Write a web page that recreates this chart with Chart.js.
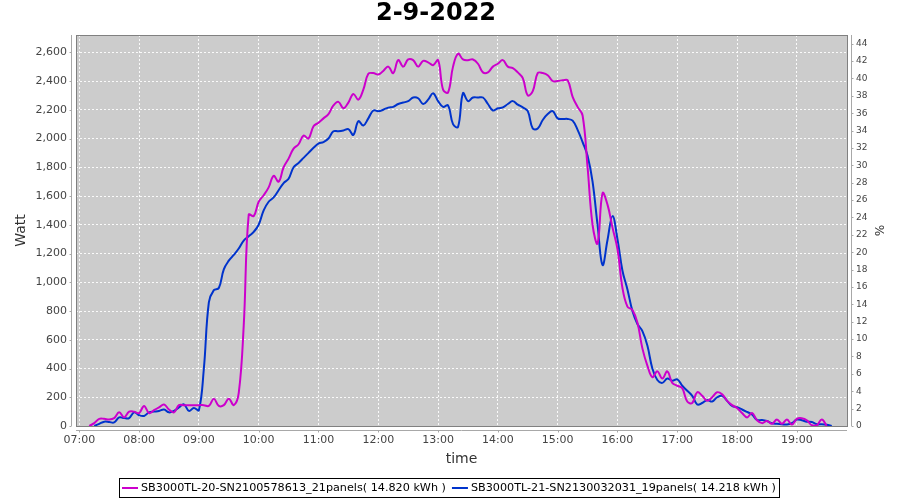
<!DOCTYPE html>
<html>
<head>
<meta charset="utf-8">
<script src="https://cdn.jsdelivr.net/npm/chart.js@4/dist/chart.umd.min.js"></script>
<style>
  html, body { margin: 0; padding: 0; background: #fff; }
  #wrap { width: 900px; height: 500px; }
</style>
</head>
<body>
<div id="wrap"><canvas id="chart" width="900" height="500"></canvas></div>
<script>
// 5 minute samples
const times = [
  '07:10','07:15','07:20','07:25','07:30','07:35','07:40','07:45','07:50','07:55',
  '08:00','08:05','08:10','08:15','08:20','08:25','08:30','08:35','08:40','08:45','08:50','08:55',
  '09:00','09:05','09:10','09:15','09:20','09:25','09:30','09:35','09:40','09:45','09:50','09:55',
  '10:00','10:05','10:10','10:15','10:20','10:25','10:30','10:35','10:40','10:45','10:50','10:55',
  '11:00','11:05','11:10','11:15','11:20','11:25','11:30','11:35','11:40','11:45','11:50','11:55',
  '12:00','12:05','12:10','12:15','12:20','12:25','12:30','12:35','12:40','12:45','12:50','12:55',
  '13:00','13:05','13:10','13:15','13:20','13:25','13:30','13:35','13:40','13:45','13:50','13:55',
  '14:00','14:05','14:10','14:15','14:20','14:25','14:30','14:35','14:40','14:45','14:50','14:55',
  '15:00','15:05','15:10','15:15','15:20','15:25','15:30','15:35','15:40','15:45','15:50','15:55',
  '16:00','16:05','16:10','16:15','16:20','16:25','16:30','16:35','16:40','16:45','16:50','16:55',
  '17:00','17:05','17:10','17:15','17:20','17:25','17:30','17:35','17:40','17:45','17:50','17:55',
  '18:00','18:05','18:10','18:15','18:20','18:25','18:30','18:35','18:40','18:45','18:50','18:55',
  '19:00','19:05','19:10','19:15','19:20','19:25','19:30','19:35'
];

// SB3000TL-20 (21 panels), Watt
const sb20 = [
  0, 20, 50, 50, 45, 55, 95, 60, 100, 100,
  90, 140, 90, 110, 130, 150, 115, 95, 145, 145, 145, 145,
  145, 145, 140, 190, 140, 145, 190, 145, 230, 700, 1470, 1460,
  1560, 1605, 1660, 1740, 1700, 1800, 1860, 1930, 1960, 2020, 2000, 2085,
  2110, 2140, 2170, 2230, 2255, 2210, 2250, 2310, 2270, 2340, 2450, 2455,
  2445, 2470, 2500, 2455, 2545, 2500, 2550, 2545, 2500, 2540, 2530, 2510,
  2545, 2340, 2320, 2500, 2590, 2550, 2545, 2550, 2520, 2460, 2460, 2500,
  2520, 2545, 2500, 2490, 2460, 2420, 2300, 2330, 2455, 2455, 2440, 2400,
  2400, 2405, 2405, 2290, 2220, 2160, 1800, 1400, 1270, 1620, 1540, 1380,
  1230, 960, 830, 807, 720, 540, 420, 340, 380, 330, 380, 300,
  280, 262, 170, 160, 235, 210, 175, 200, 235, 220, 175, 145,
  125, 90, 60, 90, 40, 20, 35, 15, 45, 15, 45, 10,
  50, 54, 40, 5, 5, 45, 0, null
];

// SB3000TL-21 (19 panels), Watt
const sb21 = [
  null, 0, 15, 30, 28, 25, 60, 55, 55, 95,
  75, 70, 95, 100, 105, 115, 95, 105, 130, 150, 105, 125,
  110, 400, 860, 945, 960, 1090, 1150, 1190, 1235, 1290, 1320, 1350,
  1400, 1500, 1560, 1590, 1640, 1690, 1720, 1800, 1830, 1865, 1900, 1935,
  1965, 1975, 2000, 2050, 2050, 2055, 2065, 2025, 2120, 2090, 2140, 2195,
  2190, 2200, 2215, 2220, 2240, 2250, 2260, 2285, 2280, 2240, 2270, 2315,
  2260, 2220, 2230, 2100, 2080, 2315, 2260, 2285, 2285, 2285, 2240, 2195,
  2210, 2217, 2240, 2260, 2235, 2217, 2190, 2070, 2070, 2129, 2170, 2190,
  2140, 2136, 2136, 2124, 2060, 1975, 1880, 1700, 1400, 1120, 1294, 1460,
  1300, 1080, 950, 800, 710, 660, 560, 400, 320, 300, 330, 315,
  325, 280, 245, 210, 150, 160, 180, 170, 200, 210, 175, 140,
  130, 115, 98, 80, 42, 42, 35, 19, 15, 12, 10, 20,
  45, 40, 30, 28, 12, 12, 8, 0
];

const hourTicks = ['07:00','08:00','09:00','10:00','11:00','12:00','13:00','14:00','15:00','16:00','17:00','18:00','19:00'];
const wattTicks = [0, 200, 400, 600, 800, 1000, 1200, 1400, 1600, 1800, 2000, 2200, 2400, 2600];
const pctTicks = [0, 2, 4, 6, 8, 10, 12, 14, 16, 18, 20, 22, 24, 26, 28, 30, 32, 34, 36, 38, 40, 42, 44];
const chartTitle = '2-9-2022';

function toMin(s) { const p = s.split(':'); return +p[0] * 60 + +p[1]; }
function fmt(m) { const h = Math.floor(m / 60), mm = Math.round(m % 60); return String(h).padStart(2, '0') + ':' + String(mm).padStart(2, '0'); }
function pts(arr) { return times.map((t, i) => ({ x: toMin(t), y: arr[i] })); }

const FONT = 'DejaVu Sans';

const plotFrame = {
  id: 'plotFrame',
  beforeDraw(chart) {
    const a = chart.chartArea, c = chart.ctx;
    c.save();
    c.fillStyle = '#cccccc';
    c.fillRect(a.left, a.top, a.right - a.left, a.bottom - a.top);
    // title
    c.fillStyle = '#000';
    c.font = 'bold 24px ' + FONT;
    c.textAlign = 'center';
    c.textBaseline = 'middle';
    c.fillText(chartTitle, 436, 14);
    c.restore();
  },
  afterDraw(chart) {
    const a = chart.chartArea, c = chart.ctx;
    c.save();
    c.strokeStyle = '#808080';
    c.lineWidth = 1;
    c.strokeRect(Math.round(a.left) + 0.5, Math.round(a.top) + 0.5, Math.round(a.right - a.left), Math.round(a.bottom - a.top));
    // offset axis lines
    c.strokeStyle = '#a8a8a8';
    c.beginPath();
    const lx = Math.round(a.left) - 4.5, rx = Math.round(a.right) + 4.5, by = Math.round(a.bottom) + 4.5;
    c.moveTo(lx, a.top); c.lineTo(lx, a.bottom);
    c.moveTo(rx, a.top); c.lineTo(rx, a.bottom);
    c.moveTo(a.left, by); c.lineTo(a.right, by);
    chart.scales.y.ticks.forEach(t => { const y = Math.round(chart.scales.y.getPixelForValue(t.value)) + 0.5; c.moveTo(lx, y); c.lineTo(lx - 2, y); });
    chart.scales.y1.ticks.forEach(t => { const y = Math.round(chart.scales.y1.getPixelForValue(t.value)) + 0.5; c.moveTo(rx, y); c.lineTo(rx + 2, y); });
    chart.scales.x.ticks.forEach(t => { const x = Math.round(chart.scales.x.getPixelForValue(t.value)) + 0.5; c.moveTo(x, by); c.lineTo(x, by + 2); });
    c.stroke();

    // legend with frame
    c.font = '11.2px ' + FONT;
    c.textBaseline = 'middle';
    c.textAlign = 'left';
    const items = chart.data.datasets.map(d => ({ label: d.label, color: d.borderColor, w: c.measureText(d.label).width }));
    const lineLen = 16, gap = 3, itemGap = 6, pad = 3;
    const total = items.reduce((s, it) => s + lineLen + gap + it.w, 0) + itemGap * (items.length - 1) + pad * 2;
    let x = Math.round(449 - total / 2);
    const top = 478, h = 19, cy = top + h / 2 + 0.5;
    c.strokeStyle = '#000';
    c.lineWidth = 1;
    c.strokeRect(x + 0.5, top + 0.5, Math.round(total), h);
    x += pad;
    items.forEach(it => {
      c.strokeStyle = it.color;
      c.lineWidth = 2;
      c.beginPath();
      c.moveTo(x, cy); c.lineTo(x + lineLen, cy);
      c.stroke();
      x += lineLen + gap;
      c.fillStyle = '#000';
      c.fillText(it.label, x, cy);
      x += it.w + itemGap;
    });
    c.restore();
  }
};

new Chart(document.getElementById('chart').getContext('2d'), {
  type: 'line',
  data: {
    datasets: [
      {
        label: 'SB3000TL-20-SN2100578613_21panels( 14.820 kWh )',
        data: pts(sb20),
        borderColor: '#cc00cc',
        backgroundColor: '#cc00cc',
        borderWidth: 2,
        pointRadius: 0,
        tension: 0.4,
        yAxisID: 'y'
      },
      {
        label: 'SB3000TL-21-SN2130032031_19panels( 14.218 kWh )',
        data: pts(sb21),
        borderColor: '#0033cc',
        backgroundColor: '#0033cc',
        borderWidth: 2,
        pointRadius: 0,
        tension: 0.4,
        yAxisID: 'y'
      }
    ]
  },
  options: {
    responsive: false,
    animation: false,
    events: [],
    layout: { padding: { left: 13, right: 15, top: 35, bottom: 25 } },
    plugins: {
      title: { display: false },
      legend: { display: false },
      tooltip: { enabled: false }
    },
    scales: {
      x: {
        type: 'linear',
        min: 416.7,
        max: 1190.3,
        afterBuildTicks: s => { s.ticks = hourTicks.map(t => ({ value: toMin(t) })); },
        afterFit: s => { s.height = 49; },
        ticks: { color: '#444', font: { family: FONT, size: 11 }, padding: 8, maxRotation: 0, callback: v => fmt(v) },
        grid: { color: 'rgba(255,255,255,0.9)', drawTicks: false },
        border: { display: false, dash: [2, 2] },
        title: { display: true, text: 'time', color: '#333', font: { family: FONT, size: 14 }, padding: { top: 2, bottom: 7 } }
      },
      y: {
        position: 'left',
        min: 0,
        max: 2720,
        afterBuildTicks: s => { s.ticks = wattTicks.map(v => ({ value: v })); },
        afterFit: s => { s.width = 63; },
        ticks: { color: '#444', font: { family: FONT, size: 11 }, padding: 9 },
        grid: { color: 'rgba(255,255,255,0.9)', drawTicks: false },
        border: { display: false, dash: [2, 2] },
        title: { display: true, text: 'Watt', color: '#333', font: { family: FONT, size: 14 }, padding: 0 }
      },
      y1: {
        position: 'right',
        min: 0,
        max: 45,
        afterBuildTicks: s => { s.ticks = pctTicks.map(v => ({ value: v })); },
        afterFit: s => { s.width = 38; },
        ticks: { color: '#444', font: { family: FONT, size: 9 }, padding: 9 },
        grid: { drawOnChartArea: false, drawTicks: false },
        border: { display: false },
        title: { display: true, text: '%', color: '#333', font: { family: FONT, size: 12 }, padding: 0 }
      }
    }
  },
  plugins: [plotFrame]
});
</script>
</body>
</html>
